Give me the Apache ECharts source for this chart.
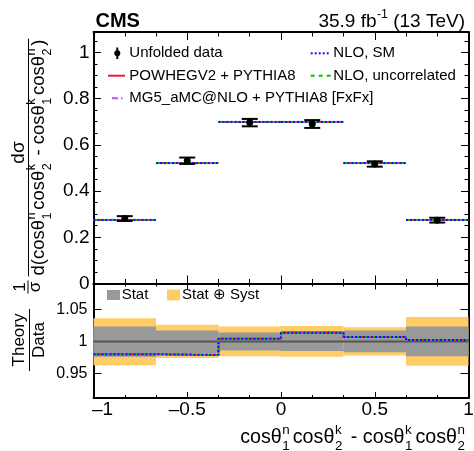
<!DOCTYPE html>
<html><head><meta charset="utf-8">
<script src="https://cdn.jsdelivr.net/npm/echarts@6/dist/echarts.min.js"></script>
<style>html,body{margin:0;padding:0;background:#fff}#c{width:474px;height:451px}</style>
</head><body><div id="c"></div>
<script>
// ---------------- data ----------------
const binEdges = [-1, -0.6667, -0.3333, 0, 0.3333, 0.6667, 1];
const binCenters = [-0.8333, -0.5, -0.1667, 0.1667, 0.5, 0.8333];
const dataValues = [0.281, 0.531, 0.696, 0.690, 0.517, 0.274];
const dataErrors = [0.0104, 0.0138, 0.0160, 0.0169, 0.0115, 0.0104];
const powhegValues = [0.275, 0.521, 0.699, 0.699, 0.521, 0.275];
const mg5Values = [0.275, 0.521, 0.699, 0.699, 0.521, 0.275];
const nloSmValues = [0.275, 0.521, 0.699, 0.699, 0.521, 0.275];
const nloUncorrValues = [0.275, 0.521, 0.699, 0.699, 0.521, 0.275];
const ratioPowheg = [0.980, 0.979, 1.004, 1.0135, 1.007, 1.002];
const ratioMg5 = [0.980, 0.979, 1.004, 1.0135, 1.007, 1.002];
const ratioNloSm = [0.980, 0.979, 1.004, 1.0135, 1.007, 1.002];
const ratioNloUncorr = [0.980, 0.979, 1.004, 1.0135, 1.007, 1.002];
const statLow = [0.976, 0.982, 0.986, 0.985, 0.983, 0.977];
const statHigh = [1.023, 1.017, 1.014, 1.016, 1.017, 1.023];
const totLow = [0.963, 0.974, 0.977, 0.976, 0.978, 0.962];
const totHigh = [1.036, 1.026, 1.023, 1.024, 1.022, 1.038];
const unity = 1;
const xTicks = [-1, -0.5, 0, 0.5, 1];
const xMinorTicks = [-0.8333, -0.6667, -0.3333, -0.1667, 0.1667, 0.3333, 0.6667, 0.8333];
const yTicks = [0, 0.2, 0.4, 0.6, 0.8, 1];
const yMinorTicks = [0.05, 0.1, 0.15, 0.25, 0.3, 0.35, 0.45, 0.5, 0.55, 0.65, 0.7, 0.75, 0.85, 0.9, 0.95, 1.05];
const ratioTicks = [0.95, 1, 1.05];

// ---------------- style ----------------
const FONT = '"Liberation Sans", Arial, Helvetica, sans-serif';
const RED = '#e8202a', MAG = '#cc44ff', BLUE = '#1010ff', GREEN = '#00c000';
const ORANGE = '#ffcc66', GRAY = '#999999';

// text layout helper for ROOT-like stacked scripts
const mctx = document.createElement('canvas').getContext('2d');
function tw(s, fs, fw) { mctx.font = (fw || 'normal') + ' ' + fs + 'px ' + FONT; return mctx.measureText(s).width; }
function layout(parts, fs, o) {
  o = Object.assign({scale: 0.68, supY: -0.41, subY: 0.44, gapB: 0.03, gapA: 0.15}, o || {});
  const sfs = fs * o.scale; const items = []; let x = 0;
  parts.forEach(p => {
    if (typeof p === 'string') { items.push({t: p, x, y: 0, fs}); x += tw(p, fs); }
    else {
      x += o.gapB * fs; let w = 0;
      if (p.sup != null) { items.push({t: p.sup, x, y: o.supY * fs, fs: sfs}); w = Math.max(w, tw(p.sup, sfs)); }
      if (p.sub != null) { items.push({t: p.sub, x, y: o.subY * fs, fs: sfs}); w = Math.max(w, tw(p.sub, sfs)); }
      x += w + o.gapA * fs;
    }
  });
  return {items, width: x};
}
function textEls(lay, dx, dy, fw) {
  return lay.items.map(it => ({type: 'text', silent: true, x: it.x + dx, y: it.y + dy,
    style: {text: it.t, fontSize: it.fs, fontFamily: FONT, fontWeight: fw || 'normal', fill: '#000',
      textAlign: 'left', align: 'left', textVerticalAlign: 'middle', verticalAlign: 'middle'}}));
}
function simpleText(t, x, y, fs, align, fw) {
  return {type: 'text', silent: true, x, y, style: {text: t, fontSize: fs, fontFamily: FONT, fontWeight: fw || 'normal',
    fill: '#000', textAlign: align || 'left', align: align || 'left', textVerticalAlign: 'middle', verticalAlign: 'middle'}};
}

const TH = '\u03b8', SIG = '\u03c3';
const xTitleParts = ['cos' + TH, {sup: 'n', sub: '1'}, 'cos' + TH, {sup: 'k', sub: '2'}, ' - cos' + TH, {sup: 'k', sub: '1'}, 'cos' + TH, {sup: 'n', sub: '2'}];
const denParts = ['d(cos' + TH, {sup: 'n', sub: '1'}, 'cos' + TH, {sup: 'k', sub: '2'}, ' - cos' + TH, {sup: 'k', sub: '1'}, 'cos' + TH, {sup: 'n', sub: '2'}, ')'];

const xtFs = 19 * 228 / layout(xTitleParts, 19).width;
const xtLay = layout(xTitleParts, xtFs);
const denFs = 19 * 236 / layout(denParts, 19).width;
const denLay = layout(denParts, denFs);
const numLay = layout(['d' + SIG], 19);
const lumiLay = layout(['35.9 fb', {sup: '-1'}, ' (13 TeV)'], 19, {scale: 0.65, supY: -0.38, gapB: 0.02, gapA: 0.0});

// ---------------- axes ----------------
function ax(grid, position, min, max, ticks, len, label) {
  const a = {
    type: 'value', gridIndex: grid, position, min, max,
    axisLine: {show: !!label || label === null, onZero: false, lineStyle: {color: '#000', width: 2}},
    axisTick: {show: true, inside: true, length: len, customValues: ticks, lineStyle: {color: '#000', width: 1}},
    axisLabel: {show: false}, splitLine: {show: false}, minorTick: {show: false}, minorSplitLine: {show: false},
    axisPointer: {show: false}
  };
  if (label) a.axisLabel = Object.assign({show: true, customValues: ticks, color: '#000', fontFamily: FONT}, label);
  return a;
}
const dashLabel = v => {
  const s = v < 0 ? '\u2013' + Math.abs(v) : String(v);
  return v === xTicks[0] ? '{m|' + s + '}' : s;
};
const xAxes = [
  ax(0, 'bottom', -1, 1, xTicks, 8, null),          // 0
  ax(0, 'bottom', -1, 1, xMinorTicks, 4.5, false),   // 1
  ax(0, 'top', -1, 1, xTicks, 8, null),             // 2
  ax(0, 'top', -1, 1, xMinorTicks, 4.5, false),      // 3
  ax(1, 'bottom', -1, 1, xTicks, 6, {fontSize: 19, margin: 2, formatter: dashLabel,
    rich: {m: {fontSize: 19, fontFamily: FONT, color: '#000', padding: [0, 0, 0, 18]}}}), // 4
  ax(1, 'bottom', -1, 1, xMinorTicks, 3, false),     // 5
  ax(1, 'top', -1, 1, xTicks, 6, null),             // 6
  ax(1, 'top', -1, 1, xMinorTicks, 3, false)         // 7
];
const yAxes = [
  ax(0, 'left', 0, 1.088, yTicks, 7.5, {fontSize: 19, margin: 4}),   // 0
  ax(0, 'left', 0, 1.088, yMinorTicks, 4, false),                    // 1
  ax(0, 'right', 0, 1.088, yTicks, 7.5, null),                       // 2
  ax(0, 'right', 0, 1.088, yMinorTicks, 4, false),                   // 3
  ax(1, 'left', 0.912, 1.09, ratioTicks, 8, {fontSize: 16, margin: 6}), // 4
  ax(1, 'right', 0.912, 1.09, ratioTicks, 8, null)                   // 5
];

// ---------------- series ----------------
function segSeries(name, vals, color, dash, z) {
  return {type: 'custom', name, xAxisIndex: 0, yAxisIndex: 0, z, clip: true,
    data: vals.map((v, i) => [binEdges[i], binEdges[i + 1], v]),
    renderItem(params, api) {
      const a = api.coord([api.value(0), api.value(2)]), b = api.coord([api.value(1), api.value(2)]);
      return {type: 'line', shape: {x1: a[0], y1: a[1], x2: b[0], y2: b[1]},
        style: {stroke: color, lineWidth: 2, lineDash: dash || null, fill: null}};
    }};
}
function stepSeries(name, vals, color, dash, z) {
  return {type: 'line', name, xAxisIndex: 4, yAxisIndex: 4, z, step: 'end', symbol: 'none', showSymbol: false,
    data: binEdges.map((e, i) => [e, vals[Math.min(i, vals.length - 1)]]),
    lineStyle: {color, width: 2, type: dash || 'solid'}};
}
function bandSeries(name, lo, hi, color, z) {
  return {type: 'custom', name, xAxisIndex: 4, yAxisIndex: 4, z, clip: true,
    data: lo.map((l, i) => [binEdges[i], binEdges[i + 1], l, hi[i]]),
    renderItem(params, api) {
      const a = api.coord([api.value(0), api.value(3)]), b = api.coord([api.value(1), api.value(2)]);
      return {type: 'rect', shape: {x: a[0], y: a[1], width: b[0] - a[0], height: b[1] - a[1]},
        style: {fill: color, stroke: null}};
    }};
}
const dataSeries = {type: 'custom', name: 'Unfolded data', xAxisIndex: 0, yAxisIndex: 0, z: 10,
  data: binCenters.map((c, i) => [c, dataValues[i], dataErrors[i]]),
  renderItem(params, api) {
    const x = api.value(0), y = api.value(1), e = api.value(2);
    const p = api.coord([x, y]), t = api.coord([x, y + e]), b = api.coord([x, y - e]);
    const hw = 8, s = {stroke: '#000', lineWidth: 2};
    return {type: 'group', children: [
      {type: 'line', shape: {x1: p[0], y1: t[1], x2: p[0], y2: b[1]}, style: s},
      {type: 'line', shape: {x1: p[0] - hw, y1: t[1], x2: p[0] + hw, y2: t[1]}, style: s},
      {type: 'line', shape: {x1: p[0] - hw, y1: b[1], x2: p[0] + hw, y2: b[1]}, style: s},
      {type: 'circle', shape: {cx: p[0], cy: p[1], r: 3.5}, style: {fill: '#000'}}
    ]};
  }};

const DASHDOT = [6, 3, 1.5, 3], DASH = [4, 4], DOT = [2, 2];
const series = [
  segSeries('POWHEGV2 + PYTHIA8', powhegValues, RED, null, 5),
  segSeries('MG5_aMC@NLO + PYTHIA8 [FxFx]', mg5Values, MAG, DASHDOT, 6),
  segSeries('NLO, uncorrelated', nloUncorrValues, GREEN, DASH, 7),
  segSeries('NLO, SM', nloSmValues, BLUE, DOT, 8),
  dataSeries,
  bandSeries('Stat \u2295 Syst', totLow, totHigh, ORANGE, 1),
  bandSeries('Stat', statLow, statHigh, GRAY, 2),
  {type: 'line', name: 'unity', xAxisIndex: 4, yAxisIndex: 4, z: 3, symbol: 'none',
    data: [[binEdges[0], unity], [binEdges[binEdges.length - 1], unity]], lineStyle: {color: '#555', width: 2}},
  stepSeries('POWHEGV2 + PYTHIA8', ratioPowheg, RED, null, 5),
  stepSeries('MG5_aMC@NLO + PYTHIA8 [FxFx]', ratioMg5, MAG, DASHDOT, 6),
  stepSeries('NLO, uncorrelated', ratioNloUncorr, GREEN, DASH, 7),
  stepSeries('NLO, SM', ratioNloSm, BLUE, DOT, 8)
];

// ---------------- graphics: titles and legends ----------------
const LF = 15;
const graphics = [
  simpleText('CMS', 95.5, 21.5, 20, 'left', 'bold'),
  ...textEls(lumiLay, 465 - lumiLay.width, 21.5),
  // legend upper
  {type: 'line', silent: true, shape: {x1: 117.3, y1: 47.5, x2: 117.3, y2: 59}, style: {stroke: '#000', lineWidth: 2}},
  {type: 'circle', silent: true, shape: {cx: 117.3, cy: 53.3, r: 3}, style: {fill: '#000'}},
  simpleText('Unfolded data', 129.3, 53.3, LF),
  {type: 'line', silent: true, shape: {x1: 108, y1: 75.7, x2: 125, y2: 75.7}, style: {stroke: RED, lineWidth: 2}},
  simpleText('POWHEGV2 + PYTHIA8', 129.3, 75.7, LF),
  {type: 'line', silent: true, shape: {x1: 112, y1: 98.3, x2: 125, y2: 98.3}, style: {stroke: MAG, lineWidth: 2, lineDash: DASHDOT}},
  simpleText('MG5_aMC@NLO + PYTHIA8 [FxFx]', 129.3, 98.3, LF),
  {type: 'line', silent: true, shape: {x1: 310.7, y1: 53.3, x2: 330.7, y2: 53.3}, style: {stroke: BLUE, lineWidth: 2, lineDash: DOT}},
  simpleText('NLO, SM', 333.3, 53.3, LF),
  {type: 'line', silent: true, shape: {x1: 310.7, y1: 75.7, x2: 330.7, y2: 75.7}, style: {stroke: GREEN, lineWidth: 2, lineDash: DASH}},
  simpleText('NLO, uncorrelated', 333.3, 75.7, LF),
  // legend ratio
  {type: 'rect', silent: true, shape: {x: 107, y: 290, width: 13, height: 10}, style: {fill: GRAY}},
  simpleText('Stat', 121.7, 295, LF),
  {type: 'rect', silent: true, shape: {x: 167, y: 289.5, width: 13, height: 11}, style: {fill: ORANGE}},
  simpleText('Stat \u2295 Syst', 182, 295, LF),
  // x title
  ...textEls(xtLay, 468 - xtLay.width, 438),
  // y title upper: 1/sigma
  {type: 'group', x: 28, y: 287, rotation: Math.PI / 2, children: [
    simpleText('1', 0, -7.5, 17, 'center'),
    {type: 'line', shape: {x1: -6.5, y1: 0, x2: 6.5, y2: 0}, style: {stroke: '#000', lineWidth: 1}},
    simpleText(SIG, 0, 7.5, 17, 'center')
  ]},
  // y title upper: d sigma / d(...)
  {type: 'group', x: 28.5, y: 157.5, rotation: Math.PI / 2, children: [
    ...textEls(numLay, -numLay.width / 2 + 5, -10),
    {type: 'line', shape: {x1: -denLay.width / 2 - 1, y1: 0, x2: denLay.width / 2 + 1, y2: 0}, style: {stroke: '#000', lineWidth: 1}},
    ...textEls(denLay, -denLay.width / 2, 10.5)
  ]},
  // ratio y title
  {type: 'group', x: 29.5, y: 340, rotation: Math.PI / 2, children: [
    simpleText('Theory', 0, -9.7, 17, 'center'),
    {type: 'line', shape: {x1: -31, y1: 0, x2: 31, y2: 0}, style: {stroke: '#000', lineWidth: 1}},
    simpleText('Data', 0, 9.5, 17, 'center')
  ]}
];

const chart = echarts.init(document.getElementById('c'), null, {renderer: 'canvas'});
chart.setOption({
  animation: false,
  backgroundColor: '#fff',
  textStyle: {fontFamily: FONT},
  grid: [
    {left: 93.5, top: 32, width: 375, height: 251.5, containLabel: false, outerBoundsMode: 'none'},
    {left: 93.5, top: 283.5, width: 375, height: 114.5, containLabel: false, outerBoundsMode: 'none'}
  ],
  xAxis: xAxes,
  yAxis: yAxes,
  series,
  graphic: graphics
});
</script></body></html>
